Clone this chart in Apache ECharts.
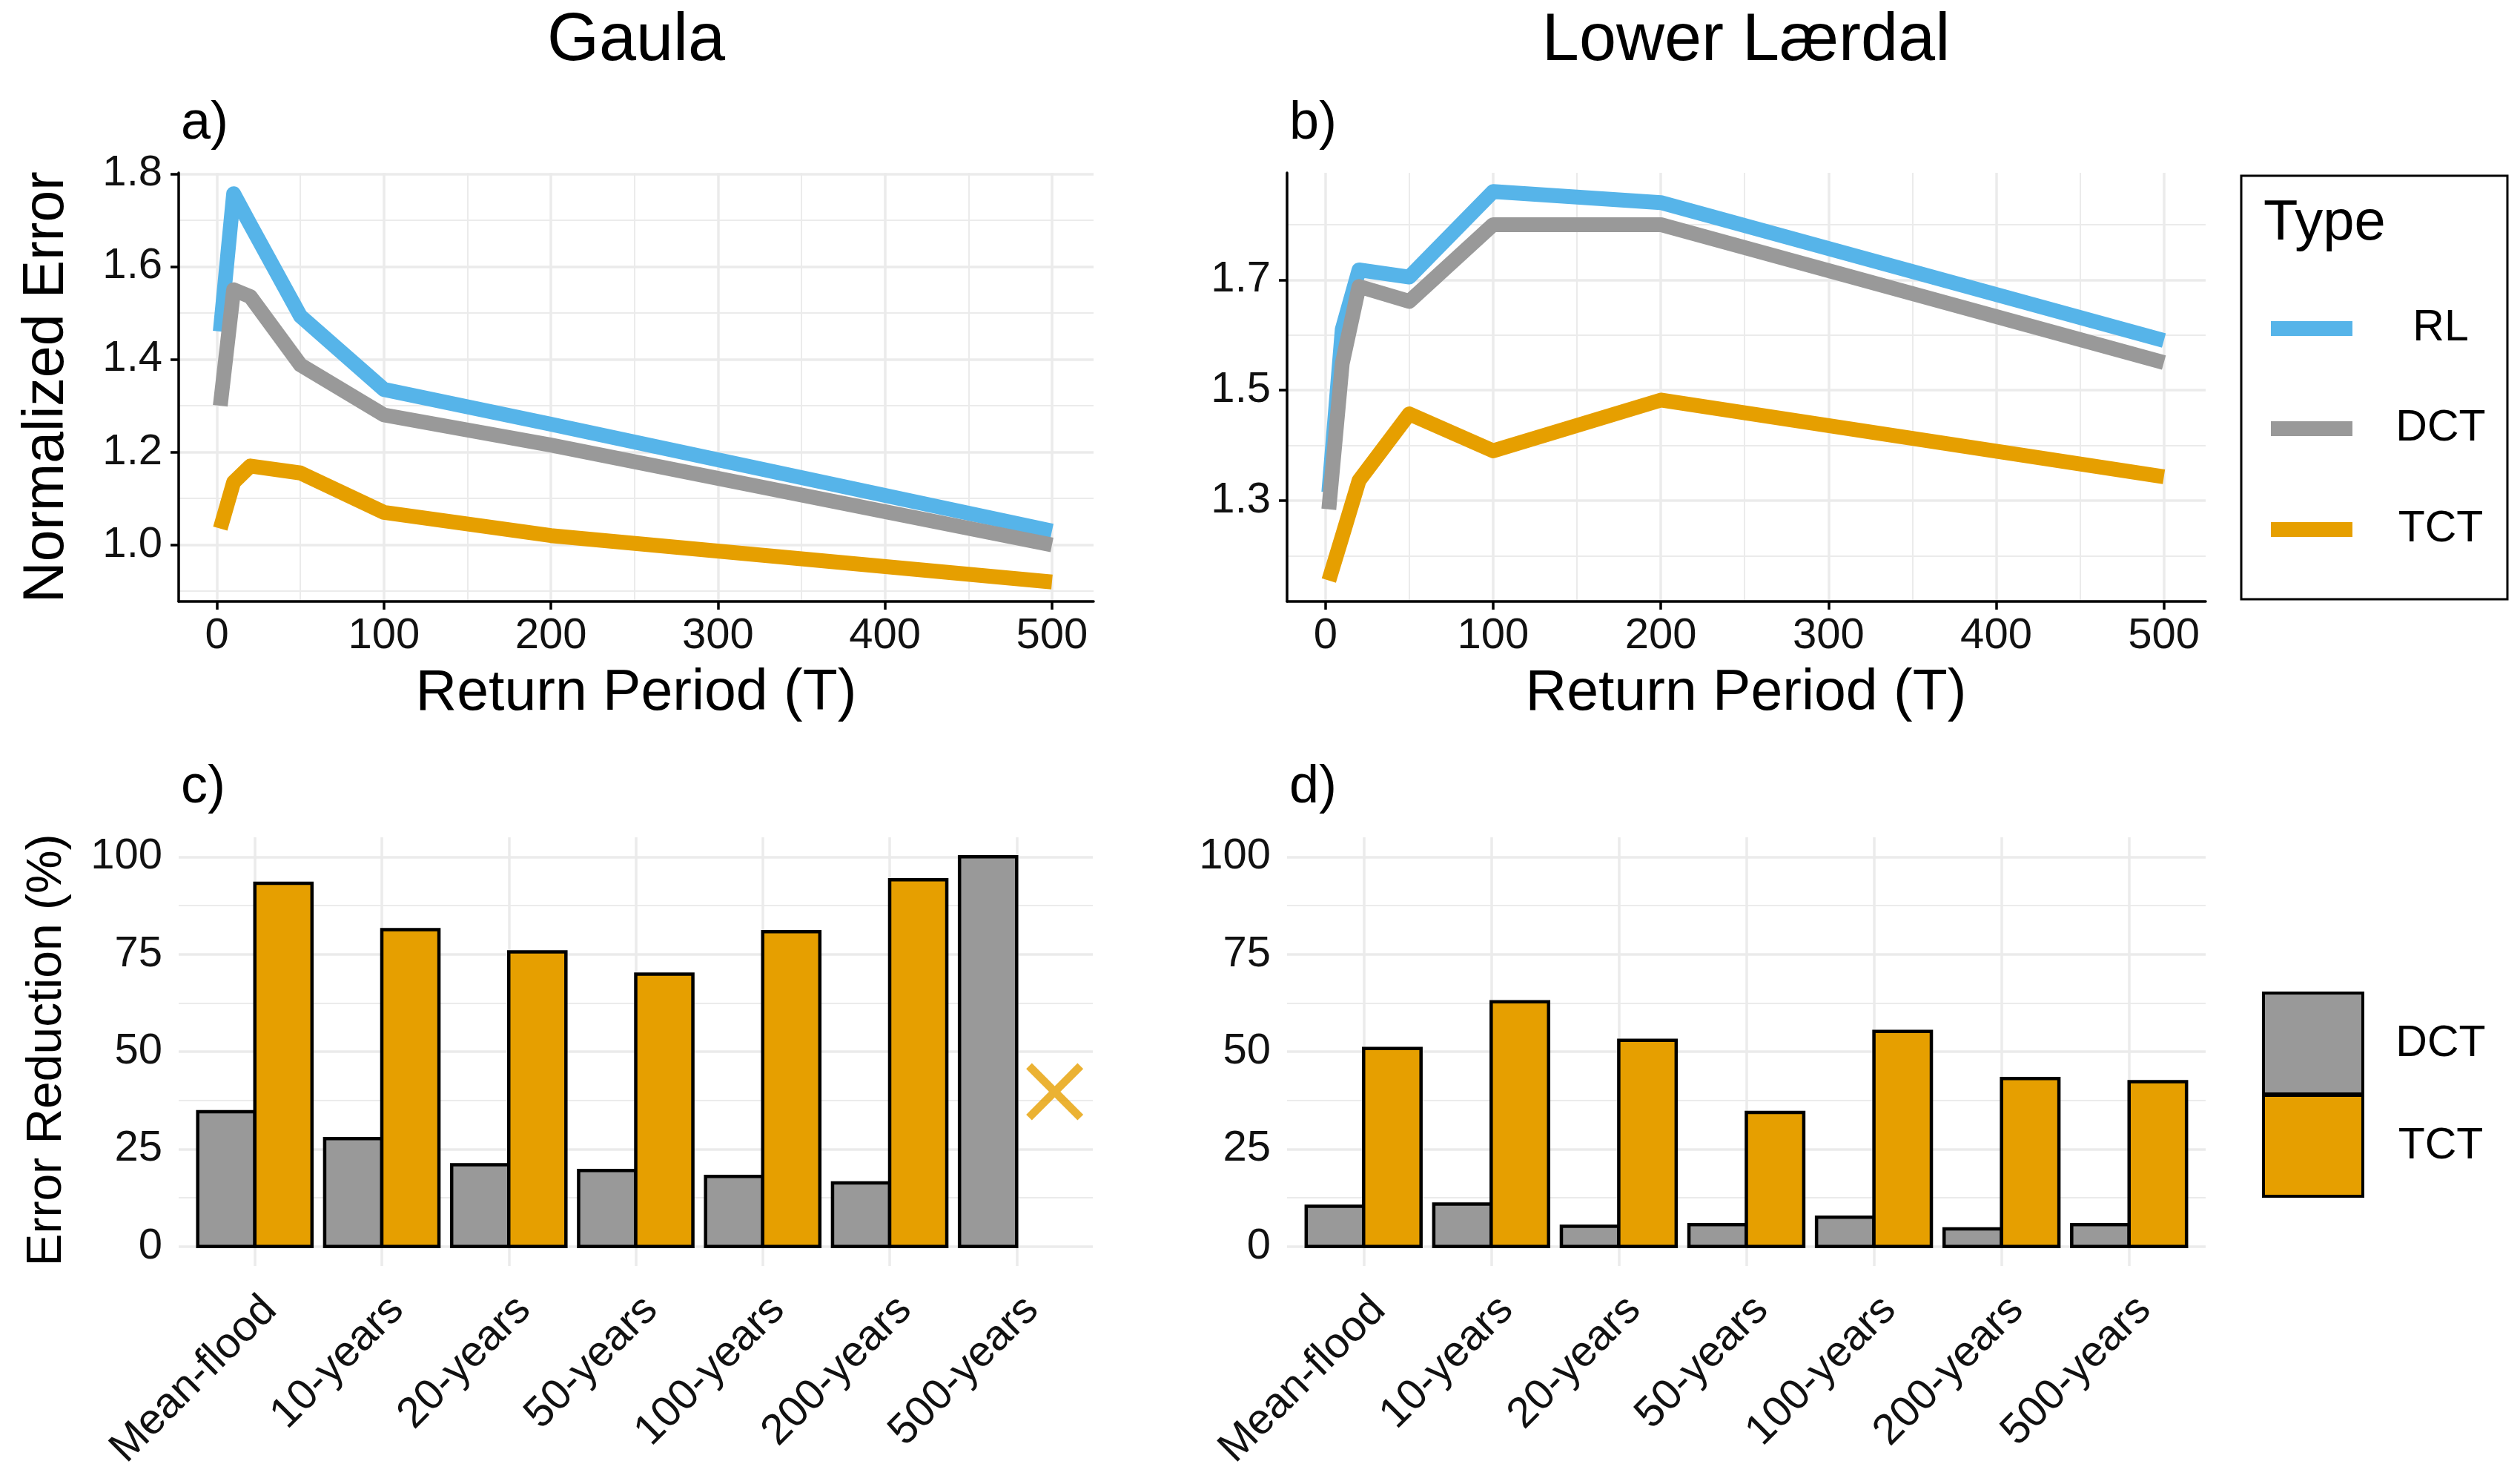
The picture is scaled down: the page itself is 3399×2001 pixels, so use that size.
<!DOCTYPE html>
<html>
<head>
<meta charset="utf-8">
<script src="https://cdn.jsdelivr.net/npm/echarts@6/dist/echarts.min.js"></script>
<style>html,body{margin:0;padding:0;background:#fff}#chart{width:3399px;height:2001px}</style>
</head>
<body>
<div id="chart"></div>
<script>
// ---------------- DATA ----------------
const returnPeriods = [2, 10, 20, 50, 100, 200, 500];
const gaulaRL  = [1.46, 1.757, 1.69, 1.493, 1.335, 1.26, 1.03];
const gaulaDCT = [1.30, 1.55, 1.535, 1.388, 1.28, 1.215, 1.00];
const gaulaTCT = [1.035, 1.135, 1.17, 1.155, 1.07, 1.02, 0.92];
const laerdalRL  = [1.315, 1.61, 1.718, 1.705, 1.86, 1.84, 1.59];
const laerdalDCT = [1.284, 1.548, 1.688, 1.661, 1.80, 1.80, 1.55];
const laerdalTCT = [1.155, 1.235, 1.336, 1.457, 1.39, 1.482, 1.343];

const categories = ['Mean-flood', '10-years', '20-years', '50-years', '100-years', '200-years', '500-years'];
const gaulaReductionDCT = [34.6, 27.7, 21.0, 19.5, 18.0, 16.3, 100];
const gaulaReductionTCT = [93.2, 81.3, 75.6, 69.9, 80.8, 94.1, null];
const laerdalReductionDCT = [10.3, 10.9, 5.2, 5.6, 7.5, 4.5, 5.6];
const laerdalReductionTCT = [50.8, 62.8, 52.9, 34.4, 55.2, 43.1, 42.3];
const gaulaMissingMark = [[7.3, 39.7]];

const lineTicksX = [0, 100, 200, 300, 400, 500];
const lineMinorX = [50, 150, 250, 350, 450];
const gaulaTicksY = [1.0, 1.2, 1.4, 1.6, 1.8];
const gaulaMinorY = [0.9, 1.1, 1.3, 1.5, 1.7];
const laerdalTicksY = [1.3, 1.5, 1.7];
const laerdalMinorY = [1.2, 1.4, 1.6, 1.8];
const barTicksX = [1, 2, 3, 4, 5, 6, 7];
const barTicksY = [0, 25, 50, 75, 100];
const barMinorY = [12.5, 37.5, 62.5, 87.5];

const typeNames = ['RL', 'DCT', 'TCT'];
const typeColors = {RL: '#56B4E9', DCT: '#999999', TCT: '#E69F00'};

// ---------------- STYLE / LAYOUT ----------------
const FONT = '"Liberation Sans", Arial, sans-serif';
const GRID_COLOR = '#EBEBEB';
const panels = [
  {left: 241, top: 233, width: 1234, height: 578},
  {left: 1736, top: 233, width: 1239, height: 578},
  {left: 241, top: 1129, width: 1233, height: 578},
  {left: 1736, top: 1129, width: 1239, height: 578}
];

const grids = panels.map(p => Object.assign({containLabel: false, outerBoundsMode: 'none', show: false}, p));

function xAxesFor(gi, min, max, ticks, minor, isLine) {
  const major = {
    type: 'value', gridIndex: gi, min: min, max: max, position: 'bottom',
    axisLine: {show: isLine, onZero: false, lineStyle: {color: '#000', width: 3.5}},
    axisTick: {show: isLine, customValues: ticks, length: 11, lineStyle: {color: '#000', width: 3.5}},
    axisLabel: isLine
      ? {show: true, customValues: ticks, margin: 18, fontSize: 58, color: '#111', fontFamily: FONT,
         formatter: v => String(Math.round(v))}
      : {show: true, customValues: ticks, margin: 30, fontSize: 58, color: '#111', fontFamily: FONT,
         rotate: 45, align: 'right', verticalAlign: 'top',
         formatter: v => categories[Math.round(v) - 1] || ''},
    splitLine: {show: true, lineStyle: {color: GRID_COLOR, width: 3.5}},
    minorTick: {show: false}, minorSplitLine: {show: false}
  };
  const res = [major];
  res.push({
    type: 'value', gridIndex: gi, min: min, max: max, position: 'top',
    axisLine: {show: false}, axisLabel: {show: false},
    axisTick: {show: false, customValues: minor.length ? minor : [min - 1]},
    splitLine: {show: minor.length > 0, lineStyle: {color: GRID_COLOR, width: 2}}
  });
  return res;
}

function yAxesFor(gi, min, max, ticks, minor, isLine, digits) {
  return [{
    type: 'value', gridIndex: gi, min: min, max: max, position: 'left',
    axisLine: {show: isLine, onZero: false, lineStyle: {color: '#000', width: 3.5}},
    axisTick: {show: isLine, customValues: ticks, length: 11, lineStyle: {color: '#000', width: 3.5}},
    axisLabel: {show: true, customValues: ticks, margin: 22, fontSize: 58, color: '#111', fontFamily: FONT,
      formatter: v => v.toFixed(digits)},
    splitLine: {show: true, lineStyle: {color: GRID_COLOR, width: 3.5}},
    minorTick: {show: false}, minorSplitLine: {show: false}
  }, {
    type: 'value', gridIndex: gi, min: min, max: max, position: 'right',
    axisLine: {show: false}, axisLabel: {show: false},
    axisTick: {show: false, customValues: minor},
    splitLine: {show: true, lineStyle: {color: GRID_COLOR, width: 2}}
  }];
}

const xAxis = [].concat(
  xAxesFor(0, -22.9, 524.9, lineTicksX, lineMinorX, true),
  xAxesFor(1, -22.9, 524.9, lineTicksX, lineMinorX, true),
  xAxesFor(2, 0.4, 7.6, barTicksX, [], false),
  xAxesFor(3, 0.4, 7.6, barTicksX, [], false)
);
const yAxis = [].concat(
  yAxesFor(0, 0.878, 1.802, gaulaTicksY, gaulaMinorY, true, 1),
  yAxesFor(1, 1.117, 1.894, laerdalTicksY, laerdalMinorY, true, 1),
  yAxesFor(2, -5, 105, barTicksY, barMinorY, false, 0),
  yAxesFor(3, -5, 105, barTicksY, barMinorY, false, 0)
);

function lineSeries(gi, name, values) {
  return {
    type: 'line', name: name, xAxisIndex: gi * 2, yAxisIndex: gi * 2,
    data: returnPeriods.map((t, i) => [t, values[i]]),
    showSymbol: false, symbol: 'none', clip: false, animation: false,
    lineStyle: {color: typeColors[name], width: 20, cap: 'butt', join: 'round'},
    z: 3
  };
}

const DODGE = 0.9;
function barSeries(gi, name, values, side) {
  const data = [];
  values.forEach((v, i) => { if (v !== null && v !== undefined) data.push([i + 1, v]); });
  return {
    type: 'custom', name: name, xAxisIndex: gi * 2, yAxisIndex: gi * 2,
    data: data, encode: {x: 0, y: 1}, clip: false, animation: false, z: 3,
    renderItem: function (params, api) {
      const x = api.value(0), v = api.value(1);
      const topPt = api.coord([x, v]);
      const basePt = api.coord([x, 0]);
      const w = api.size([DODGE / 2, 0])[0];
      const x0 = side < 0 ? topPt[0] - w : topPt[0];
      return {
        type: 'rect',
        shape: {x: x0, y: topPt[1], width: w, height: basePt[1] - topPt[1]},
        style: {fill: typeColors[name], stroke: '#000', lineWidth: 4.5}
      };
    }
  };
}

const series = [
  lineSeries(0, 'RL', gaulaRL), lineSeries(0, 'DCT', gaulaDCT), lineSeries(0, 'TCT', gaulaTCT),
  lineSeries(1, 'RL', laerdalRL), lineSeries(1, 'DCT', laerdalDCT), lineSeries(1, 'TCT', laerdalTCT),
  barSeries(2, 'DCT', gaulaReductionDCT, -1), barSeries(2, 'TCT', gaulaReductionTCT, 1),
  barSeries(3, 'DCT', laerdalReductionDCT, -1), barSeries(3, 'TCT', laerdalReductionTCT, 1),
  {
    type: 'scatter', name: 'TCT missing', xAxisIndex: 4, yAxisIndex: 4,
    data: gaulaMissingMark, clip: false, animation: false, z: 4,
    symbol: 'path://M0,1 L1,0 L5,4 L9,0 L10,1 L6,5 L10,9 L9,10 L5,6 L1,10 L0,9 L4,5 Z',
    symbolSize: [77, 77], itemStyle: {color: typeColors.TCT}
  }
];

// ---------------- TEXT / LEGENDS ----------------
function txt(x, y, text, size, opt) {
  opt = opt || {};
  return {
    type: 'text', x: x, y: y, rotation: opt.rotation || 0, silent: true, z: 10,
    style: {
      text: text, font: size + 'px ' + FONT, fill: opt.color || '#000',
      align: opt.align || 'center', verticalAlign: opt.valign || 'middle',
      textAlign: opt.align || 'center', textVerticalAlign: opt.valign || 'middle'
    }
  };
}

const graphic = [
  txt(858, 56, 'Gaula', 90),
  txt(2355, 56, 'Lower Lærdal', 90),
  txt(244, 167, 'a)', 72, {align: 'left'}),
  txt(1739, 167, 'b)', 72, {align: 'left'}),
  txt(244, 1062, 'c)', 72, {align: 'left'}),
  txt(1739, 1062, 'd)', 72, {align: 'left'}),
  txt(64, 522, 'Normalized Error', 77, {rotation: Math.PI / 2}),
  txt(64, 1416, 'Error Reduction (%)', 66, {rotation: Math.PI / 2}),
  txt(858, 936, 'Return Period (T)', 77),
  txt(2355, 936, 'Return Period (T)', 77),
  // line legend
  {type: 'rect', z: 9, silent: true, shape: {x: 3023, y: 237, width: 359, height: 571},
   style: {fill: '#fff', stroke: '#000', lineWidth: 3}},
  txt(3053, 302, 'Type', 76, {align: 'left'})
];
const lineLegendY = [443, 578, 714];
typeNames.forEach((n, i) => {
  graphic.push({type: 'line', z: 10, silent: true,
    shape: {x1: 3063, y1: lineLegendY[i], x2: 3173, y2: lineLegendY[i]},
    style: {stroke: typeColors[n], lineWidth: 20, lineCap: 'butt'}});
  graphic.push(txt(3292, lineLegendY[i], n, 59));
});
const barLegend = [{name: 'DCT', y: 1339, cy: 1408}, {name: 'TCT', y: 1477, cy: 1546}];
barLegend.forEach(b => {
  graphic.push({type: 'rect', z: 10, silent: true, shape: {x: 3053, y: b.y, width: 134, height: 136},
    style: {fill: typeColors[b.name], stroke: '#000', lineWidth: 4}});
  graphic.push(txt(3292, b.cy, b.name, 59));
});

const chart = echarts.init(document.getElementById('chart'), null, {renderer: 'canvas', width: 3399, height: 2001});
chart.setOption({
  backgroundColor: '#ffffff',
  animation: false,
  textStyle: {fontFamily: FONT},
  grid: grids,
  xAxis: xAxis,
  yAxis: yAxis,
  series: series,
  graphic: graphic
});
</script>
</body>
</html>
